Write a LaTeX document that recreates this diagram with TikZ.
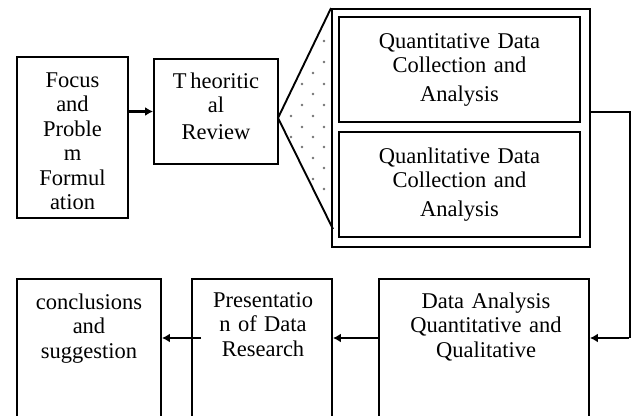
\documentclass[tikz,border=0pt]{standalone}
\usepackage{fontspec}
\setmainfont{Liberation Serif}
\usetikzlibrary{arrows.meta}
\tikzset{
  x=1pt, y=-1pt,
  box/.style={draw, line width=1.9pt, inner sep=0pt, rectangle},
  txt/.style={font=\fontsize{22.5}{24.5}\selectfont, align=center, anchor=base, inner sep=0pt, text width=#1},
  arr/.style={line width=2.4pt, -{Latex[length=8pt,width=9pt]}},
  conn/.style={line width=2pt},
  dotfill/.style={fill=black!55}
}
\begin{document}
\begin{tikzpicture}
\clip (0,0) rectangle (631,415);
\fill[white] (0,0) rectangle (631,415);
% top row
\node[box, minimum width=111pt, minimum height=161pt] (focus) at (72.5,137.5) {};
\node[txt=110pt] (focust) at (72.5,87) {Focus\\and\\Proble\\m\\Formul\\ation};
\node[box, minimum width=124pt, minimum height=105pt] (theo) at (216,111.5) {};
\node[txt=120pt] (theot) at (216,88) {T\,heoritic\\al\\[2pt]Review};
\node[box, minimum width=258pt, minimum height=238pt] (outer) at (461,128) {};
\node[box, minimum width=241pt, minimum height=105pt] (in1) at (459.5,69.5) {};
\node[txt=235pt] (in1t) at (459.5,48) {Quantitative Data\\Collection and\\[4pt]Analysis};
\node[box, minimum width=241pt, minimum height=105pt] (in2) at (459.5,184.5) {};
\node[txt=235pt] (in2t) at (459.5,163) {Quanlitative Data\\Collection and\\[4pt]Analysis};
% triangle with dots
\coordinate (apex) at (278,118);
\coordinate (tb) at (333,229);
\foreach \px/\py in {324/41,324/62,324/84,324/105,324/127,324/147,324/168,324/189,
  313/73,313/94,313/116,313/137,313/158,313/179,
  302/84,302/105,302/127,302/147,291/116,291/137}
  \fill[dotfill] (\px,\py) circle (1.3pt);
\draw[line width=1.9pt] (outer.north west) -- (apex) -- (tb);
% bottom row
\node[box, minimum width=144pt, minimum height=150pt] (concl) at (89,354) {};
\node[txt=140pt] (conclt) at (89,309) {conclusions\\and\\suggestion};
\node[box, minimum width=140pt, minimum height=150pt] (pres) at (262,354) {};
\node[txt=136pt] (prest) at (263,307) {Presentatio\\n of Data\\Research};
\node[box, minimum width=210pt, minimum height=150pt] (data) at (484,354) {};
\node[txt=205pt] (datat) at (486,308) {Data Analysis\\Quantitative and\\Qualitative};
% connectors
\draw[arr] (focus.east |- theo.west) -- (theo.west);
\coordinate (c1) at (630,112);
\coordinate (c2) at (630,338);
\draw[conn] (outer.east |- c1) -- (c1) -- (c2);
\draw[arr] ([xshift=-1pt]c2) -- (data.east |- c2);
\draw[arr] (data.west |- c2) -- (pres.east |- c2);
\draw[arr] ([xshift=10pt]pres.west |- c2) -- (concl.east |- c2);
\end{tikzpicture}
\end{document}
